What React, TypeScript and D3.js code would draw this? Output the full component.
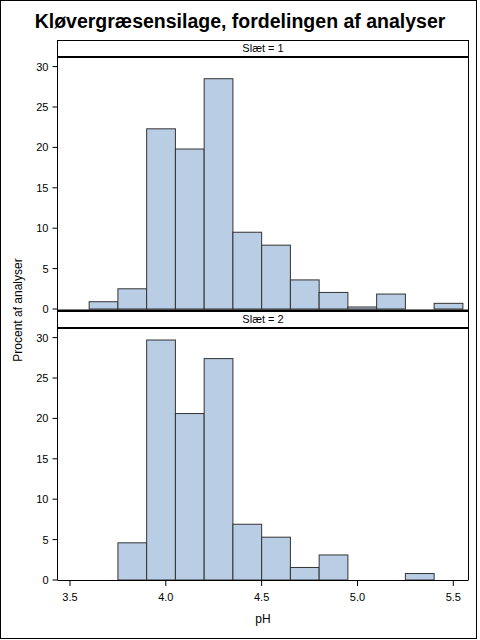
import * as d3 from "d3";
import React from "react";

// histogram bins (pH), width 0.15
const binStarts = [3.45, 3.6, 3.75, 3.9, 4.05, 4.2, 4.35, 4.5, 4.65, 4.8, 4.95, 5.1, 5.25, 5.4];
const binWidth = 0.15;

// percent of analyses per bin
const slaet1 = [0, 0.9, 2.5, 22.3, 19.8, 28.5, 9.5, 7.9, 3.6, 2.05, 0.25, 1.85, 0, 0.7];
const slaet2 = [0, 0, 4.6, 29.7, 20.6, 27.4, 6.9, 5.3, 1.55, 3.1, 0, 0, 0.8, 0];

const panels = [
  { label: "Slæt = 1", values: slaet1 },
  { label: "Slæt = 2", values: slaet2 },
];

const xTicks = [3.5, 4.0, 4.5, 5.0, 5.5];
const yTicks = [0, 5, 10, 15, 20, 25, 30];

const FONT = "Arial, 'Liberation Sans', sans-serif";
const FILL = "#B9CDE5";

const App: React.FC = () => {
  const left = 57.5;
  const right = 468.5;
  const x = d3.scaleLinear().domain([3.5, 5.5]).range([70, 453.3]);

  // panel geometry: header top, plot top, zero line
  const layout = [
    { headTop: 40, plotTop: 57, zero: 309 },
    { headTop: 311, plotTop: 328, zero: 580 },
  ];

  return (
    <svg
      width={480}
      height={640}
      style={{ position: "absolute", left: 0, top: 0, background: "#fff" }}
      fontFamily={FONT}
    >
      <rect x={0.5} y={0.5} width={476} height={638} fill="none" stroke="#000" />
      <text x={240} y={28} textAnchor="middle" fontSize={19.5} fontWeight="bold">
        Kløvergræsensilage, fordelingen af analyser
      </text>

      {panels.map((p, pi) => {
        const L = layout[pi];
        const y = d3.scaleLinear().domain([0, 30]).range([L.zero, L.zero - 242.4]);
        return (
          <g key={p.label}>
            {/* header strip */}
            <rect
              x={left}
              y={L.headTop + 0.5}
              width={right - left}
              height={L.plotTop - L.headTop - 0.5}
              fill="#fff"
              stroke="#000"
            />
            <line x1={left} x2={right} y1={L.plotTop} y2={L.plotTop} stroke="#000" strokeWidth={2} />
            <text x={(left + right) / 2} y={L.headTop + 12} textAnchor="middle" fontSize={11}>
              {p.label}
            </text>

            {/* bars */}
            {p.values.map((v, i) =>
              v > 0 ? (
                <rect
                  key={i}
                  x={x(binStarts[i])}
                  y={y(v)}
                  width={x(binStarts[i] + binWidth) - x(binStarts[i])}
                  height={y(0) - y(v)}
                  fill={FILL}
                  stroke="#333"
                  strokeWidth={1}
                />
              ) : null
            )}

            {/* y axis ticks */}
            {yTicks.map((t) => (
              <g key={t}>
                <line x1={left - 5} x2={left} y1={y(t)} y2={y(t)} stroke="#000" />
                <text x={left - 9} y={y(t) + 4} textAnchor="end" fontSize={11}>
                  {t}
                </text>
              </g>
            ))}
          </g>
        );
      })}

      {/* frame */}
      <line x1={left} x2={left} y1={40} y2={580} stroke="#000" />
      <line x1={right} x2={right} y1={40} y2={580} stroke="#000" />
      <line x1={left} x2={right} y1={310.5} y2={310.5} stroke="#000" strokeWidth={2} />
      <line x1={left} x2={right} y1={580.5} y2={580.5} stroke="#000" />

      {/* x axis */}
      {xTicks.map((t) => (
        <g key={t}>
          <line x1={x(t)} x2={x(t)} y1={580.5} y2={586} stroke="#000" />
          <text x={x(t)} y={601} textAnchor="middle" fontSize={11}>
            {t.toFixed(1)}
          </text>
        </g>
      ))}
      <text x={(left + right) / 2} y={623} textAnchor="middle" fontSize={12}>
        pH
      </text>
      <text
        transform={`translate(22,310) rotate(-90)`}
        textAnchor="middle"
        fontSize={12}
      >
        Procent af analyser
      </text>
    </svg>
  );
};

export default App;
